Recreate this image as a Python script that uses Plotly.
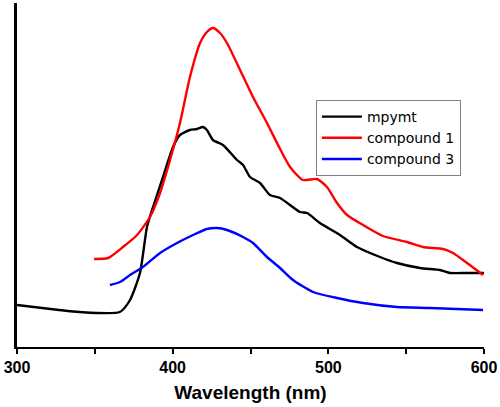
import plotly.graph_objects as go

# Wavelength (nm) and intensity (arbitrary units)
mpymt_x = [300, 327, 340, 366, 372.6, 379, 383.5, 387.4, 393.8, 400.2, 404.7, 411.1, 415.6, 419.5, 422,
           425.9, 432.3, 441.3, 445.2, 449.7, 456.1, 462.5, 469, 481.8, 486.3, 494.6, 507.5, 518.4,
           533.2, 544.1, 558.9, 571.7, 578.2, 589.1, 600]
mpymt_y = [42, 37, 35, 35, 47, 74, 120, 140, 170, 200, 212, 217, 218, 220, 217,
           207, 202, 187, 182, 170, 164, 152, 149, 135, 134, 124, 112, 100,
           90, 84, 79, 77, 74, 74, 74]

c1_x = [349.5, 358.5, 368.1, 377.1, 385.4, 391.9, 398.3, 404.7, 411.1, 417.6, 422, 425.9, 430.4, 434.9,
        443.3, 451.6, 460.6, 469, 475.4, 483.7, 492.7, 499.1, 505.6, 512, 522.3, 535.1, 550.5,
        560.8, 573.7, 580.1, 589.1, 599.4]
c1_y = [88, 89, 100, 112, 130, 154, 187, 224, 270, 304, 315, 319, 314, 304,
        277, 250, 224, 198, 180, 167, 168, 160, 144, 132, 122, 111, 105,
        100, 98, 94, 84, 72]

c3_x = [359.7, 366.2, 372.6, 380.9, 391.9, 402.8, 413.1, 422, 428.5, 434.9, 445.2, 451.6, 460.6,
        469, 477.3, 490.2, 505.6, 522.3, 544.1, 565.3, 599.4]
c3_y = [62, 65, 72, 80, 94, 104, 112, 118, 119, 117, 110, 104, 90,
        79, 67, 55, 49, 44, 40, 39, 37]

x_ticks = [300, 400, 500, 600]

fig = go.Figure()
for name, xs, ys, col in [("mpymt", mpymt_x, mpymt_y, "#000000"),
                          ("compound 1", c1_x, c1_y, "#ff0000"),
                          ("compound 3", c3_x, c3_y, "#0000ff")]:
    fig.add_trace(go.Scatter(x=xs, y=ys, mode="lines", name=name,
                             line=dict(color=col, width=2.4, shape="spline", smoothing=0.6)))

font_family = "Arial, Liberation Sans, sans-serif"
fig.update_layout(
    width=500, height=407,
    margin=dict(l=17, r=16, t=3, b=60, autoexpand=False),
    paper_bgcolor="white", plot_bgcolor="white",
    font=dict(family=font_family, color="black"),
    showlegend=True,
    legend=dict(x=0.64, y=0.718, xanchor="left", yanchor="top",
                bordercolor="#808080", borderwidth=1, bgcolor="white", itemwidth=40,
                font=dict(size=14, family="DejaVu Sans, Arial, sans-serif"), tracegroupgap=0),
    xaxis=dict(range=[300, 600], tickvals=x_ticks, ticktext=[str(v) for v in x_ticks],
               automargin=False,
               showline=True, linecolor="black", linewidth=2, showgrid=False, zeroline=False,
               ticks="outside", ticklen=5, tickwidth=2, tickcolor="black",
               minor=dict(tickvals=[350, 450, 550], ticks="outside", ticklen=5, tickwidth=2, tickcolor="black"),
               tickfont=dict(size=16, family=font_family, weight="bold"),
               title=dict(text="<b>Wavelength (nm)</b>", font=dict(size=19, family=font_family), standoff=10)),
    yaxis=dict(range=[0, 344], automargin=False, showline=True, linecolor="black", linewidth=2.5,
               showgrid=False, zeroline=False, showticklabels=False, ticks=""),
)

fig.write_html("out.html", config={"displayModeBar": False},
               post_script="document.body.style.margin='0';document.body.style.overflow='hidden';")
